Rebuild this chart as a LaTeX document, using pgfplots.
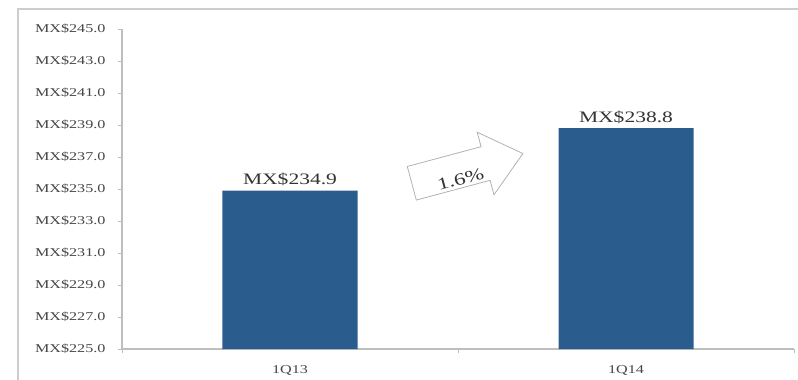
\documentclass[border=0pt]{standalone}
\usepackage{pgfplots}
\pgfplotsset{compat=1.18}
\usepackage{fontspec}
\setmainfont{Liberation Serif}[FakeStretch=1.35]
\usetikzlibrary{shapes.arrows}

\definecolor{barblue}{RGB}{42,93,142}
\definecolor{axisgray}{RGB}{190,190,190}
\definecolor{framegray}{RGB}{205,205,205}
\definecolor{labelgray}{RGB}{70,70,70}

\begin{document}
\begin{tikzpicture}
\begin{axis}[
  scale only axis,
  width=672bp, height=320bp,
  xmin=-0.5, xmax=1.5,
  ymin=225, ymax=245,
  ytick={225,227,...,245},
  xtick={0,1},
  xticklabels={1Q13,1Q14},
  minor xtick={-0.5,0.5,1.5},
  axis lines*=left,
  axis line style={draw=axisgray, line width=1.2pt},
  tick style={draw=axisgray, line width=1pt},
  major x tick style={draw=none},
  tick align=outside,
  major tick length=4bp,
  minor tick length=4bp,
  /pgf/number format/assume math mode=true,
  yticklabel={MX\$\pgfmathprintnumber[fixed,fixed zerofill,precision=1]{\tick}},
  yticklabel style={font=\fontsize{12}{14}\selectfont, text=labelgray, xshift=-9bp},
  xticklabel style={font=\fontsize{12}{14}\selectfont, text=labelgray, yshift=-9bp},
  ybar,
  bar width=135bp,
  nodes near coords={MX\$\pgfmathprintnumber[fixed,fixed zerofill,precision=1]{\pgfplotspointmeta}},
  nodes near coords style={font=\fontsize{16}{18}\selectfont, text=black!80, yshift=1bp},
  clip=false,
]
\addplot[fill=barblue, draw=none] coordinates {(0,234.9) (1,238.8)};

% growth arrow between the two bars
\node[single arrow, draw=black!30, fill=white, line width=0.8pt,
      rotate=15, minimum height=115bp, minimum width=64bp,
      single arrow head extend=15bp, single arrow tip angle=80,
      inner xsep=0bp, inner ysep=17bp]
  at (axis cs:0.498,236.12) {};
\node[rotate=15, font=\fontsize{17}{19}\selectfont, text=black!80, inner sep=0pt]
  at (axis cs:0.508,235.62) {1.6\%};

\coordinate (ll) at (rel axis cs:0,0);
\coordinate (ur) at (rel axis cs:1,1);
\end{axis}
% outer frame: only its top and left edges fall inside the page
\draw[framegray, line width=2bp]
  ([xshift=-104bp,yshift=-60bp]ll) rectangle ([xshift=40bp,yshift=20bp]ur);
\pgfresetboundingbox
\path[use as bounding box] ([xshift=-122bp,yshift=-31bp]ll) rectangle ([xshift=4bp,yshift=29bp]ur);
\end{tikzpicture}
\end{document}
